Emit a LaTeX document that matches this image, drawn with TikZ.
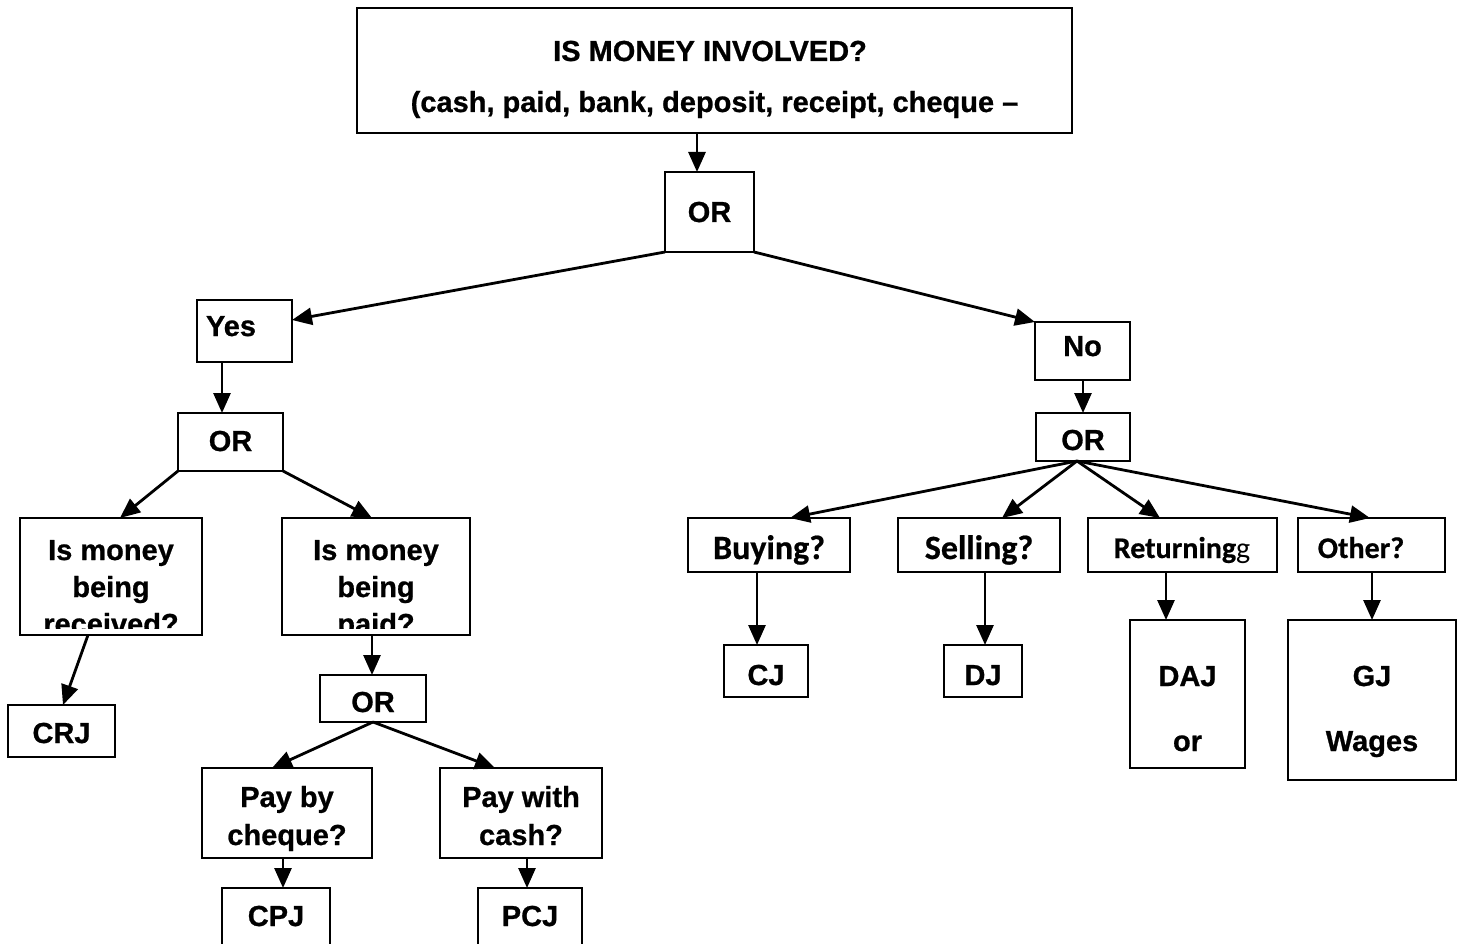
\documentclass[tikz,border=0pt]{standalone}
\usepackage{fontspec}
\setmainfont{Liberation Sans}[BoldFeatures={FakeBold=0.8}]
\newfontfamily\calfont{Carlito}[BoldFeatures={FakeBold=0.6}]
\usetikzlibrary{arrows.meta,calc}
\tikzset{
  box/.style={draw, line width=2.4pt, inner sep=0pt, outer sep=0pt},
  txt/.style={inner sep=0pt, outer sep=0pt, anchor=base, font=\fontsize{29}{34}\selectfont\bfseries},
  ctxt/.style={inner sep=0pt, outer sep=0pt, anchor=base, font=\fontsize{30}{36}\selectfont\calfont\bfseries},
  cbtxt/.style={inner sep=0pt, outer sep=0pt, anchor=base, font=\fontsize{34}{40}\selectfont\calfont\bfseries},
  arr/.style={line width=2.8pt, -{Triangle[length=20pt,width=17pt]}}
}
\newcommand\mybox[5]{\node[box,minimum width={#3-#2},minimum height={#5-#4}] (#1) at ({(#2+#3)/2},{(#4+#5)/2}) {};}
\begin{document}
\begin{tikzpicture}[x=1pt,y=-1pt]
\useasboundingbox (0,0) rectangle (1464,944);
\clip (0,0) rectangle (1464,944);
% boxes
\mybox{top}{357}{1072}{8}{133}
\mybox{or1}{665}{754}{172}{252}
\mybox{yes}{197}{292}{300}{362}
\mybox{or2}{178}{283}{413}{471}
\mybox{recv}{20}{202}{518}{635}
\mybox{paid}{282}{470}{518}{635}
\mybox{crj}{8}{115}{705}{757}
\mybox{or3}{320}{426}{675}{722}
\mybox{cheque}{202}{372}{768}{858}
\mybox{cash}{440}{602}{768}{858}
\mybox{cpj}{222}{330}{888}{970}
\mybox{pcj}{478}{582}{888}{970}
\mybox{no}{1035}{1130}{322}{380}
\mybox{or4}{1036}{1130}{413}{461}
\mybox{buy}{688}{850}{518}{572}
\mybox{sell}{898}{1060}{518}{572}
\mybox{ret}{1088}{1277}{518}{572}
\mybox{oth}{1298}{1445}{518}{572}
\mybox{cj}{724}{808}{645}{697}
\mybox{dj}{944}{1022}{645}{697}
\mybox{daj}{1130}{1245}{620}{768}
\mybox{gj}{1288}{1456}{620}{780}
% texts
\node[txt] (t1a) at (710,61) {IS MONEY INVOLVED?};
\node[txt] (t1b) at (714.5,112) {(cash, paid, bank, deposit, receipt, cheque –};
\node[txt] (tor1) at (709.5,222) {OR};
\node[txt] (tyes) at (231,336) {Yes};
\node[txt] (tor2) at (230.5,451) {OR};
\begin{scope}
\clip (20,518) rectangle (470,628);
\node[txt] (tr1) at (111,560) {Is money};
\node[txt] (tr2) at (111,597) {being};
\node[txt] (tr3) at (111,634) {received?};
\node[txt] (tp1) at (376,560) {Is money};
\node[txt] (tp2) at (376,597) {being};
\node[txt] (tp3) at (376,634) {paid?};
\end{scope}
\node[txt] (tcrj) at (61.5,743) {CRJ};
\node[txt] (tor3) at (373,712) {OR};
\node[txt] (tch1) at (287,807) {Pay by};
\node[txt] (tch2) at (287,845) {cheque?};
\node[txt] (tca1) at (521,807) {Pay with};
\node[txt] (tca2) at (521,845) {cash?};
\node[txt] (tcpj) at (276,926) {CPJ};
\node[txt] (tpcj) at (530,926) {PCJ};
\node[txt] (tno) at (1082.5,356) {No};
\node[txt] (tor4) at (1083,450) {OR};
\node[cbtxt] (tbuy) at (769,559) {Buying?};
\node[cbtxt] (tsell) at (979,559) {Selling?};
\node[ctxt] (tret) at (1182,558) {Returning{\mdseries g}};
\node[ctxt] (toth) at (1361,558) {Other?};
\node[txt] (tcj) at (766,685) {CJ};
\node[txt] (tdj) at (983,685) {DJ};
\node[txt] (tdaj1) at (1187.5,686) {DAJ};
\node[txt] (tdaj2) at (1187.5,751) {or};
\node[txt] (tgj1) at (1372,686) {GJ};
\node[txt] (tgj2) at (1372,751) {Wages};
% connectors
\draw[arr] ($(top.south west)+(340,0)$) -- ($(or1.north west)+(32,0)$);
\draw[arr] (or1.south west) -- ($(yes.north east)+(0,20)$);
\draw[arr] (or1.south east) -- (no.north west);
\draw[arr] ($(yes.south west)+(25,0)$) -- ($(or2.north west)+(44,0)$);
\draw[arr] (or2.south west) -- ($(recv.north west)+(100,0)$);
\draw[arr] (or2.south east) -- ($(paid.north west)+(90,0)$);
\draw[arr] ($(recv.south west)+(68,0)$) -- ($(crj.north west)+(55,0)$);
\draw[arr] ($(paid.south west)+(90,0)$) -- ($(or3.north west)+(52,0)$);
\draw[arr] (or3.south) -- ($(cheque.north west)+(70,0)$);
\draw[arr] (or3.south) -- ($(cash.north west)+(55,0)$);
\draw[arr] ($(cheque.south west)+(81,0)$) -- ($(cpj.north west)+(61,0)$);
\draw[arr] ($(cash.south west)+(87,0)$) -- ($(pcj.north west)+(49,0)$);
\draw[arr] ($(no.south west)+(48,0)$) -- ($(or4.north west)+(47,0)$);
\draw[arr] ($(or4.south west)+(41,0)$) -- ($(buy.north west)+(102,0)$);
\draw[arr] ($(or4.south west)+(41,0)$) -- ($(sell.north west)+(104,0)$);
\draw[arr] ($(or4.south west)+(41,0)$) -- ($(ret.north west)+(72,0)$);
\draw[arr] ($(or4.south west)+(41,0)$) -- ($(oth.north west)+(72,0)$);
\draw[arr] ($(buy.south west)+(69,0)$) -- ($(cj.north west)+(33,0)$);
\draw[arr] ($(sell.south west)+(87,0)$) -- ($(dj.north west)+(41,0)$);
\draw[arr] ($(ret.south west)+(78,0)$) -- ($(daj.north west)+(36,0)$);
\draw[arr] ($(oth.south west)+(74,0)$) -- ($(gj.north west)+(84,0)$);
\end{tikzpicture}
\end{document}
